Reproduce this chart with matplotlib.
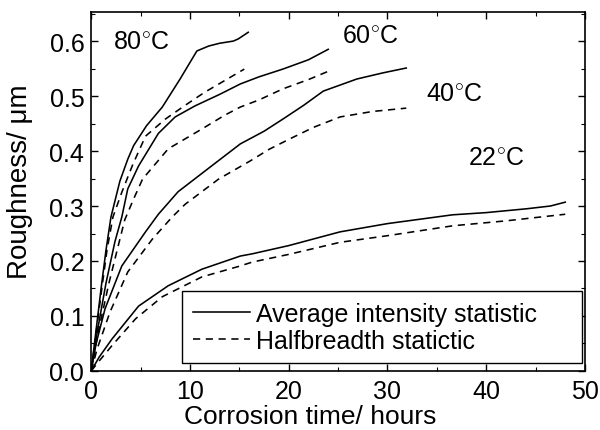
import matplotlib
matplotlib.use('Agg')
import matplotlib.pyplot as plt
from matplotlib.ticker import MultipleLocator

# ============================================================================
# DATA (hours, micrometres)
# ============================================================================
t80_avg = [0, 0.5, 1.0, 1.5, 2.0, 2.9, 3.7, 4.3, 5.6, 7.2, 9.0, 10.7, 11.9, 13.0, 14.4, 14.9, 15.9]
r80_avg = [0, 0.075, 0.15, 0.22, 0.28, 0.345, 0.385, 0.41, 0.446, 0.48, 0.531, 0.582, 0.591, 0.596, 0.60, 0.604, 0.616]
t80_hb = [0, 0.5, 1.0, 1.6, 2.2, 3.1, 4.2, 5.5, 7.5, 9.5, 11.5, 13.5, 15.5]
r80_hb = [0, 0.07, 0.14, 0.22, 0.28, 0.325, 0.375, 0.427, 0.458, 0.483, 0.507, 0.528, 0.549]

t60_avg = [0, 0.6, 1.5, 2.4, 3.1, 3.7, 4.8, 6.8, 8.5, 10.5, 13.0, 15.1, 17.0, 19.4, 22.0, 24.0]
r60_avg = [0, 0.07, 0.16, 0.235, 0.28, 0.331, 0.373, 0.432, 0.462, 0.482, 0.503, 0.522, 0.535, 0.549, 0.566, 0.585]
t60_hb = [0, 0.7, 1.8, 2.7, 3.4, 4.3, 5.2, 7.8, 11.2, 13.5, 15.1, 17.0, 19.4, 22.0, 24.0]
r60_hb = [0, 0.07, 0.16, 0.225, 0.275, 0.313, 0.349, 0.404, 0.44, 0.465, 0.48, 0.493, 0.513, 0.53, 0.545]

t40_avg = [0, 0.5, 1.4, 3.1, 5.5, 6.8, 8.8, 12.2, 15.1, 17.5, 19.4, 21.5, 23.5, 26.9, 29.5, 31.9]
r40_avg = [0, 0.05, 0.113, 0.191, 0.253, 0.285, 0.326, 0.373, 0.413, 0.436, 0.458, 0.483, 0.509, 0.531, 0.542, 0.551]
t40_hb = [0, 0.6, 1.9, 3.7, 6.2, 8.2, 9.5, 12.9, 16.1, 18.0, 20.1, 22.5, 25.2, 28.5, 31.9]
r40_hb = [0, 0.04, 0.107, 0.18, 0.24, 0.28, 0.303, 0.349, 0.382, 0.403, 0.422, 0.443, 0.462, 0.472, 0.478]

t22_avg = [0, 0.8, 2.1, 4.8, 7.8, 11.2, 15.1, 16.3, 20.0, 25.2, 30.0, 36.6, 40.0, 44.1, 46.5, 48.0]
r22_avg = [0, 0.025, 0.058, 0.118, 0.155, 0.185, 0.209, 0.213, 0.228, 0.253, 0.268, 0.284, 0.288, 0.295, 0.3, 0.307]
t22_hb = [0, 0.8, 2.1, 4.5, 7.2, 11.2, 15.1, 16.3, 20.0, 25.2, 30.0, 36.6, 42.0, 48.0]
r22_hb = [0, 0.018, 0.046, 0.095, 0.135, 0.171, 0.191, 0.198, 0.212, 0.234, 0.246, 0.264, 0.273, 0.285]

series = [
    (t80_avg, r80_avg, t80_hb, r80_hb),
    (t60_avg, r60_avg, t60_hb, r60_hb),
    (t40_avg, r40_avg, t40_hb, r40_hb),
    (t22_avg, r22_avg, t22_hb, r22_hb),
]

temp_labels = ['80$^{\\circ}$C', '60$^{\\circ}$C', '40$^{\\circ}$C', '22$^{\\circ}$C']
label_pos = [(2.2, 0.60), (25.4, 0.611), (33.9, 0.505), (38.2, 0.389)]

x_ticks = [0, 10, 20, 30, 40, 50]
y_ticks = [0.0, 0.1, 0.2, 0.3, 0.4, 0.5, 0.6]

# ============================================================================

plt.rcParams.update({
    'font.family': ['Liberation Sans', 'DejaVu Sans'],
    'mathtext.fontset': 'custom',
    'mathtext.rm': 'Liberation Sans',
    'xtick.direction': 'in',
    'ytick.direction': 'in',
    'xtick.top': True,
    'ytick.right': True,
    'axes.linewidth': 1.2,
})

dash = (0, (4.5, 3.5))
lw = 1.15

fig = plt.figure(figsize=(6.0, 4.31), dpi=100)
ax = fig.add_axes([0.152, 0.137, 0.823, 0.833])

for ta, ra, th, rh in series:
    ax.plot(ta, ra, color='black', linewidth=lw, linestyle='-')
    ax.plot(th, rh, color='black', linewidth=lw, linestyle=dash)

# legend proxies
h1, = ax.plot([], [], color='black', linewidth=lw, linestyle='-')
h2, = ax.plot([], [], color='black', linewidth=lw, linestyle=dash)

for lab, (x, y) in zip(temp_labels, label_pos):
    ax.text(x, y, lab, fontsize=18, ha='left', va='center')

ax.set_xlim(0, 50)
ax.set_ylim(0, 0.653)
ax.set_xticks(x_ticks)
ax.set_yticks(y_ticks)
ax.set_yticklabels([f'{v:.1f}' for v in y_ticks])
ax.xaxis.set_minor_locator(MultipleLocator(5))
ax.yaxis.set_minor_locator(MultipleLocator(0.05))
ax.tick_params(which='major', length=5, width=1.0, labelsize=18)
ax.tick_params(axis='x', which='major', pad=6)
ax.tick_params(axis='y', which='major', pad=5)
ax.tick_params(which='minor', length=3, width=0.8, top=True, right=True)

ax.set_xlabel('Corrosion time/ hours', fontsize=19)
ax.set_ylabel('Roughness/ \u03bcm', fontsize=20)
ax.xaxis.set_label_coords(0.443, -0.0915)
ax.yaxis.set_label_coords(-0.117, 0.53)

# legend box stretched to the width seen in the reference
leg = ax.legend([h1, h2], ['Average intensity statistic', 'Halfbreadth statictic'],
                loc='lower left', bbox_to_anchor=(0.184, 0.022, 0.81, 0.198), mode='expand',
                fontsize=18, frameon=True, fancybox=False, framealpha=1, edgecolor='black',
                handlelength=2.3, handletextpad=0.25, borderpad=0.42, labelspacing=0.12,
                borderaxespad=0)
leg.get_frame().set_linewidth(1.0)

fig.savefig('out.png', dpi=100)
